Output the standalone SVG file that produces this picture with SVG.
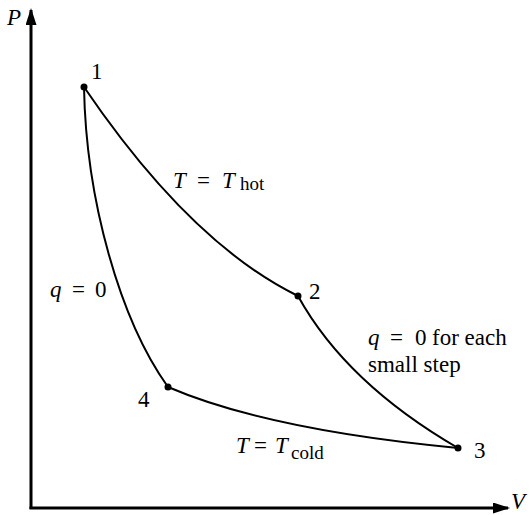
<svg xmlns="http://www.w3.org/2000/svg" width="530" height="515" viewBox="0 0 530 515">
<style>
.t{font-family:"Liberation Serif","DejaVu Serif",serif;font-size:23px;fill:#000}
.it{font-style:italic}
.sub{font-size:19px}
.axis{stroke:#000;stroke-width:3;fill:none}
.curve{stroke:#000;stroke-width:2;fill:none}
.dot{fill:#000}
</style>
<defs>
<marker id="arr" viewBox="0 0 17 11" markerWidth="17" markerHeight="11" refX="15" refY="5.5" orient="auto" markerUnits="userSpaceOnUse">
<path d="M0,0 L17,5.5 L0,11 z" fill="#000"/>
</marker>
</defs>
<rect width="530" height="515" fill="#fff"/>
<g id="axes">
<path class="axis" d="M31,509 L31,10" marker-end="url(#arr)"/>
<path class="axis" d="M29.5,508 L508,508" marker-end="url(#arr)"/>
<text class="t it" x="7" y="25">P</text>
<text class="t it" x="511" y="509" font-size="20">V</text>
</g>
<g id="connectors">
<path id="c12" class="curve" d="M84,87 Q190,243 298,296"/>
<path id="c23" class="curve" d="M298,296 Q346,383 458,448"/>
<path id="c14" class="curve" d="M84,87 C86,200 120,320 168,387"/>
<path id="c43" class="curve" d="M168,387 Q268,430 458,448"/>
</g>
<g id="labels">
<text class="t" x="173" y="188"><tspan class="it">T</tspan><tspan x="197">=</tspan><tspan x="222" class="it">T</tspan><tspan x="240" dy="2" class="sub">hot</tspan></text>
<text class="t" x="50" y="297"><tspan class="it">q</tspan><tspan x="72">=</tspan><tspan x="95">0</tspan></text>
<text class="t" x="368" y="345"><tspan class="it">q</tspan><tspan x="390">=</tspan><tspan x="415">0</tspan><tspan x="432">for each</tspan></text>
<text class="t" x="368" y="372">small step</text>
<text class="t" x="236" y="453"><tspan class="it">T</tspan><tspan x="254">=</tspan><tspan x="275" class="it">T</tspan><tspan x="291" dy="6" class="sub">cold</tspan></text>
</g>
<g id="node1"><circle class="dot" cx="84" cy="87" r="3.5"/><text class="t" x="91" y="79">1</text></g>
<g id="node2"><circle class="dot" cx="298" cy="296" r="3.5"/><text class="t" x="309" y="299">2</text></g>
<g id="node3"><circle class="dot" cx="458" cy="448" r="3.5"/><text class="t" x="474" y="458">3</text></g>
<g id="node4"><circle class="dot" cx="168" cy="387" r="3.5"/><text class="t" x="138" y="407">4</text></g>
</svg>
